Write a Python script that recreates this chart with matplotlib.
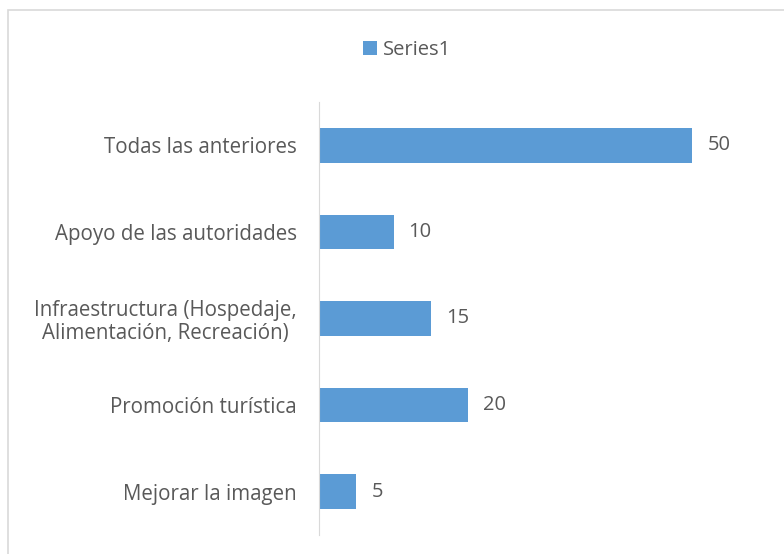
import matplotlib.pyplot as plt
from matplotlib.patches import Rectangle

categories = ["Mejorar la imagen", "Promoción turística",
              "Infraestructura (Hospedaje,\nAlimentación, Recreación)",
              "Apoyo de las autoridades", "Todas las anteriores"]
values = [5, 20, 15, 10, 50]

bar_color = "#5B9BD5"
text_color = "#595959"

plt.rcParams["font.family"] = ["Open Sans", "DejaVu Sans"]

fig = plt.figure(figsize=(7.84, 5.54), dpi=100)
ax = fig.add_axes([319 / 784, 1 - 535 / 554, 448 / 784, 433 / 554])

# borde del área del gráfico
fig.patches.append(Rectangle((8 / 784, -0.1), 1.2, 1 - 10 / 554 + 0.1,
                             transform=fig.transFigure, fill=False,
                             edgecolor="#D9D9D9", linewidth=1.2))

bars = ax.barh(range(len(values)), values, height=0.4, color=bar_color, label="Series1")
for b, v in zip(bars, values):
    ax.text(b.get_width() + 2, b.get_y() + b.get_height() / 2, str(v),
            va="center", ha="left", fontsize=14.5, color=text_color)

ax.set_xlim(0, 60)
ax.set_ylim(-0.5, len(values) - 0.5)
ax.set_yticks(range(len(values)))
ax.set_yticklabels(categories, fontsize=14.8, color=text_color, ha="right",
                   multialignment="center", linespacing=1.1)
ax.tick_params(axis="y", length=0, pad=16)
ax.set_xticks([])
for s in ["top", "right", "bottom"]:
    ax.spines[s].set_visible(False)
ax.spines["left"].set_color("#D9D9D9")

fig.legend(handles=[bars], labels=["Series1"], loc="center",
           bbox_to_anchor=(407 / 784, 1 - 50 / 554), frameon=False,
           fontsize=14.5, labelcolor=text_color, handlelength=0.7,
           handleheight=0.7, handletextpad=0.3)

fig.savefig("out.png", dpi=100)
